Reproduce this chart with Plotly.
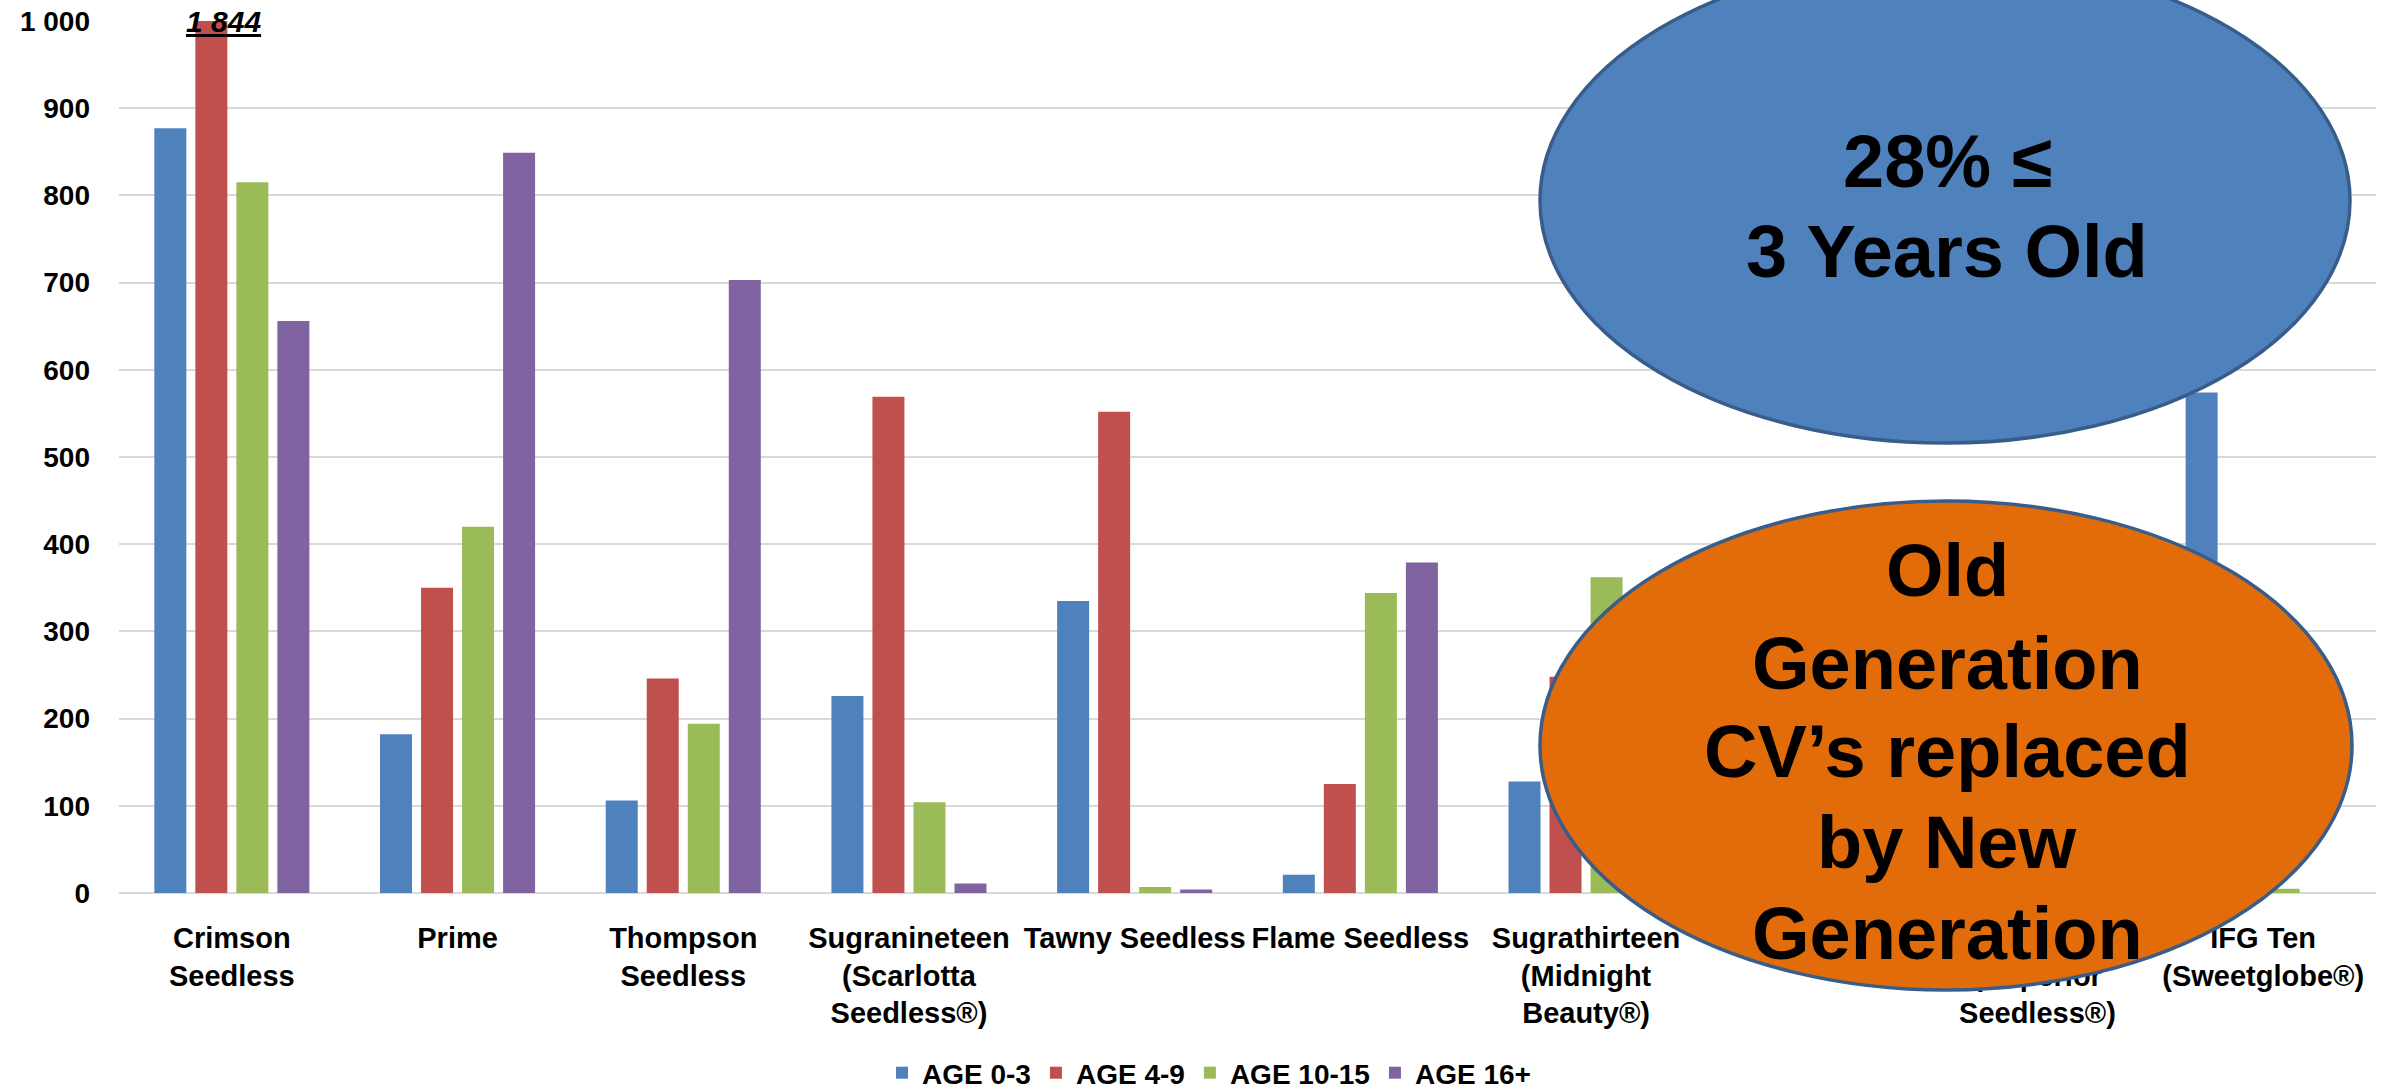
import plotly.graph_objects as go

# ---------------- data ----------------
categories = [
    "Crimson<br>Seedless",
    "Prime",
    "Thompson<br>Seedless",
    "Sugranineteen<br>(Scarlotta<br>Seedless®)",
    "Tawny Seedless",
    "Flame Seedless",
    "Sugrathirteen<br>(Midnight<br>Beauty®)",
    "Red Globe",
    "Sugraone<br>(Superior<br>Seedless®)",
    "IFG Ten<br>(Sweetglobe®)",
]
age_0_3 = [877, 182, 106, 226, 335, 21, 128, 150, 200, 574]
age_4_9 = [1844, 350, 246, 569, 552, 125, 248, 180, 150, 80]
age_10_15 = [815, 420, 194, 104, 7, 344, 362, 120, 250, 5]
age_16_plus = [656, 849, 703, 11, 4, 379, 20, 60, 300, 0]
series_names = ["AGE 0-3", "AGE 4-9", "AGE 10-15", "AGE 16+"]
y_ticks = [0, 100, 200, 300, 400, 500, 600, 700, 800, 900, 1000]

colors = ["#4F81BD", "#C0504D", "#9BBB59", "#8064A2"]

W, H = 2385, 1092
L, R, T, B = 119, 9, 21, 199
PW, PH = W - L - R, H - T - B


def px_x(x):
    return (x - L) / PW


def px_y(y):
    return (H - B - y) / PH


fig = go.Figure()
for name, vals, col in zip(series_names, [age_0_3, age_4_9, age_10_15, age_16_plus], colors):
    fig.add_trace(go.Bar(x=categories, y=vals, name=name, marker_color=col,
                         marker_line_width=0))

font_main = "Liberation Sans, Arial, sans-serif"

# ellipses
fig.add_shape(type="circle", xref="paper", yref="paper",
              x0=px_x(1540), x1=px_x(2350), y0=px_y(443), y1=px_y(-42),
              fillcolor="#4F81BD", line=dict(color="#385D8A", width=3.5), layer="above")
fig.add_shape(type="circle", xref="paper", yref="paper",
              x0=px_x(1540), x1=px_x(2352), y0=px_y(990), y1=px_y(501),
              fillcolor="#E36C0A", line=dict(color="#385D8A", width=3.5), layer="above")

blue_lines = [("28% ≤", 157), ("3 Years Old", 247)]
orange_lines = [("Old", 566), ("Generation", 659), ("CV’s replaced", 747),
                ("by New", 838), ("Generation", 929)]
for txt, yc in blue_lines + orange_lines:
    fig.add_annotation(xref="paper", yref="paper", x=px_x(1947), y=px_y(yc + 4),
                       text=txt, showarrow=False, xanchor="center", yanchor="middle",
                       font=dict(family=font_main, size=74, color="black", weight="bold"))

# clipped value label
fig.add_annotation(x=categories[0], y=1000, xref="x", yref="y",
                   text="<i><u>" + f"{age_4_9[0]:,}".replace(",", " ") + "</u></i>",
                   showarrow=False, xanchor="center", yanchor="middle", xshift=-8, yshift=0,
                   font=dict(family=font_main, size=30, color="black", weight="bold"))

fig.update_layout(
    width=W, height=H,
    margin=dict(l=L, r=R, t=T, b=B, pad=0, autoexpand=False),
    paper_bgcolor="white", plot_bgcolor="white",
    barmode="group", bargap=0.273, bargroupgap=0.22,
    separators=". ",
    font=dict(family=font_main, color="black"),
    legend=dict(orientation="h", x=px_x(1209), xanchor="center", y=px_y(1073),
                yanchor="middle", font=dict(family=font_main, size=28, color="black",
                                            weight="bold"),
                bgcolor="rgba(0,0,0,0)"),
    showlegend=True,
)
fig.update_xaxes(showgrid=False, showline=False, ticks="", zeroline=False,
                 automargin=False,
                 tickfont=dict(family=font_main, size=29, color="black", weight="bold"),
                 ticklabelstandoff=25, tickangle=0)
fig.update_yaxes(range=[0, 1000], tickvals=y_ticks, tickformat=",d",
                 automargin=False,
                 showgrid=True, gridcolor="#D9D9D9", gridwidth=2,
                 zeroline=True, zerolinecolor="#D9D9D9", zerolinewidth=2,
                 showline=False, ticks="",
                 tickfont=dict(family=font_main, size=28, color="black", weight="bold"),
                 ticklabelstandoff=28)

fig.write_html("out.html")
